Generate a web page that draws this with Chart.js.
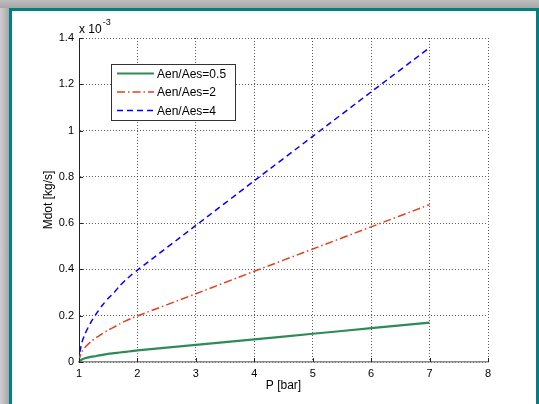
<!DOCTYPE html>
<html>
<head>
<meta charset="utf-8">
<script src="https://cdn.jsdelivr.net/npm/chart.js@4.4.1/dist/chart.umd.min.js"></script>
<style>
  html, body { margin: 0; padding: 0; width: 539px; height: 404px; overflow: hidden; }
  body { position: relative; background: linear-gradient(to right, #cfcfcf 0px, #b9b9b9 5px, #a6a6a6 9px, #bdbdbd 9px); }
  #topstrip { position: absolute; left: 0; top: 0; width: 539px; height: 8px;
    background: linear-gradient(to bottom, #bdbdbd, #a7a7a7); }
  #frame { position: absolute; left: 9px; top: 8px; width: 524px; height: 420px;
    border-left: 3px solid #008080; border-top: 3px solid #008080; border-right: 3px solid #008080;
    background: #ffffff; }
  #c { position: absolute; left: 0; top: 0; }
</style>
</head>
<body>
<div id="topstrip"></div>
<div id="frame"></div>
<canvas id="c" width="539" height="404"></canvas>
<script>
// ---- data (Mdot in units of 1e-3 kg/s) ----
const pressure = [1, 1.01, 1.02, 1.05, 1.1, 1.2, 1.3, 1.4, 1.5, 1.6, 1.7, 1.8, 1.9, 2, 3, 4, 5, 6, 7];
const mdotRatio05 = [0, 0.005, 0.007, 0.011, 0.016, 0.022, 0.026, 0.031, 0.035, 0.038, 0.041, 0.044, 0.047, 0.050, 0.074, 0.098, 0.122, 0.146, 0.170];
const mdotRatio2  = [0, 0.018, 0.026, 0.045, 0.063, 0.087, 0.106, 0.123, 0.138, 0.151, 0.165, 0.178, 0.189, 0.199, 0.295, 0.392, 0.488, 0.584, 0.680];
const mdotRatio4  = [0, 0.035, 0.050, 0.085, 0.120, 0.170, 0.210, 0.245, 0.275, 0.300, 0.330, 0.355, 0.377, 0.397, 0.590, 0.783, 0.975, 1.167, 1.358];
const seriesLabels = ['Aen/Aes=0.5', 'Aen/Aes=2', 'Aen/Aes=4'];
const xTicks = [1, 2, 3, 4, 5, 6, 7, 8];
const yTicks = [0, 0.2, 0.4, 0.6, 0.8, 1, 1.2, 1.4];
const xTitle = 'P [bar]';
const yTitle = 'Mdot [kg/s]';
const exponentLabel = ['x 10', '-3'];

const FONT = '"Liberation Sans", Arial, Helvetica, sans-serif';
const colors = ['#2e8b57', '#e2401c', '#0000ff'];
const dashes = [[], [8, 3, 1.5, 3], [6, 4]];
const widths = [2.2, 1.5, 1.5];

function pts(ys) { return pressure.map((p, i) => ({ x: p, y: ys[i] })); }

const datasets = [mdotRatio05, mdotRatio2, mdotRatio4].map((ys, i) => ({
  label: seriesLabels[i],
  data: pts(ys),
  borderColor: colors[i],
  backgroundColor: colors[i],
  borderWidth: widths[i],
  borderDash: dashes[i],
  pointRadius: 0,
  tension: 0.25,
  fill: false
}));

const extras = {
  id: 'extras',
  afterDraw(chart) {
    const ctx = chart.ctx;
    const ca = chart.chartArea;
    const xs = chart.scales.x, ys = chart.scales.y;
    ctx.save();
    // inward ticks
    ctx.strokeStyle = '#222';
    ctx.lineWidth = 1;
    ctx.setLineDash([]);
    yTicks.forEach(v => {
      const y = Math.round(ys.getPixelForValue(v)) + 0.5;
      ctx.beginPath(); ctx.moveTo(ca.left, y); ctx.lineTo(ca.left + 4, y); ctx.stroke();
    });
    xTicks.forEach(v => {
      const x = Math.round(xs.getPixelForValue(v)) + 0.5;
      ctx.beginPath(); ctx.moveTo(x, ca.bottom); ctx.lineTo(x, ca.bottom - 4); ctx.stroke();
    });
    // exponent label
    ctx.fillStyle = '#000';
    ctx.textBaseline = 'alphabetic';
    ctx.textAlign = 'left';
    ctx.font = '12px ' + FONT;
    ctx.fillText(exponentLabel[0], ca.left, 33);
    const w = ctx.measureText(exponentLabel[0]).width;
    ctx.font = '9px ' + FONT;
    ctx.fillText(exponentLabel[1], ca.left + w + 1, 25);
    // legend
    const lx = 111.5, ly = 64.5, lw = 124, lh = 56;
    ctx.fillStyle = '#fff';
    ctx.fillRect(lx, ly, lw, lh);
    ctx.strokeStyle = '#333';
    ctx.lineWidth = 1;
    ctx.strokeRect(lx, ly, lw, lh);
    const rowY = [73.5, 92, 110.5];
    ctx.font = '12px ' + FONT;
    ctx.textBaseline = 'middle';
    seriesLabels.forEach((lab, i) => {
      ctx.strokeStyle = colors[i];
      ctx.lineWidth = widths[i];
      ctx.setLineDash(dashes[i]);
      ctx.beginPath(); ctx.moveTo(117, rowY[i]); ctx.lineTo(154, rowY[i]); ctx.stroke();
      ctx.setLineDash([]);
      ctx.fillStyle = '#000';
      ctx.fillText(lab, 157, rowY[i] + 1);
    });
    ctx.restore();
  }
};

new Chart(document.getElementById('c'), {
  type: 'line',
  data: { datasets },
  options: {
    responsive: false,
    animation: false,
    devicePixelRatio: 1,
    layout: { padding: { left: 0, top: 38, right: 51, bottom: 0 } },
    plugins: { legend: { display: false }, tooltip: { enabled: false } },
    scales: {
      x: {
        type: 'linear', min: 1, max: 8,
        afterFit(s) { s.height = 42; },
        afterBuildTicks(s) { s.ticks = xTicks.map(v => ({ value: v })); },
        ticks: { color: '#000', font: { family: FONT, size: 11 }, padding: 5, maxRotation: 0,
                 callback: v => String(v) },
        grid: { color: 'rgba(40,40,40,0.75)', lineWidth: 1, drawTicks: false },
        border: { display: true, color: '#8a8a8a', width: 1.5, dash: [1, 2] },
        title: { display: true, text: xTitle, color: '#000', font: { family: FONT, size: 12 },
                 padding: { top: 0, bottom: 11 } }
      },
      y: {
        type: 'linear', min: 0, max: 1.4,
        afterFit(s) { s.width = 79; },
        afterBuildTicks(s) { s.ticks = yTicks.map(v => ({ value: v })); },
        ticks: { color: '#000', font: { family: FONT, size: 11 }, padding: 5,
                 callback: v => Math.abs(v - Math.round(v)) < 1e-9 ? String(Math.round(v)) : v.toFixed(1) },
        grid: { color: 'rgba(40,40,40,0.75)', lineWidth: 1, drawTicks: false },
        border: { display: true, color: '#222', width: 1, dash: [1, 2] },
        title: { display: true, text: yTitle, color: '#000', font: { family: FONT, size: 12 },
                 padding: { top: 41, bottom: 0 } }
      }
    }
  },
  plugins: [extras]
});
</script>
</body>
</html>
